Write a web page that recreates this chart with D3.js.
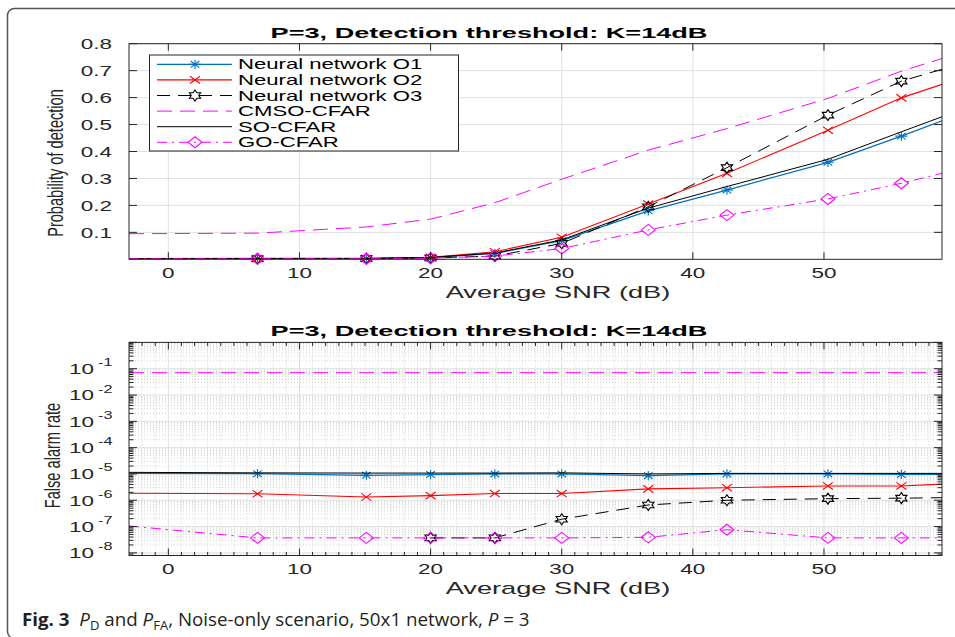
<!DOCTYPE html>
<html><head><meta charset="utf-8">
<script src="https://cdn.jsdelivr.net/npm/d3@7"></script>
<style>body{margin:0;background:#fff;} svg{display:block;}</style>
</head><body><svg id="c" width="955" height="637"></svg>
<script>
// ---------------- DATA ----------------
const snr = [-3, 6.8, 15.1, 20, 24.9, 30, 36.6, 42.6, 50.3, 55.9, 59];
const seriesNames = ['Neural network O1', 'Neural network O2', 'Neural network O3', 'CMSO-CFAR', 'SO-CFAR', 'GO-CFAR'];
// Probability of detection
const pdO1   = [0.002, 0.003, 0.003, 0.006, 0.022, 0.069, 0.180, 0.257, 0.360, 0.457, 0.514];
const pdO2   = [0.002, 0.003, 0.003, 0.007, 0.028, 0.082, 0.205, 0.319, 0.479, 0.599, 0.649];
const pdO3   = [0.002, 0.002, 0.003, 0.005, 0.012, 0.059, 0.195, 0.340, 0.535, 0.661, 0.705];
const pdCMSO = [0.095, 0.097, 0.120, 0.149, 0.210, 0.297, 0.405, 0.485, 0.597, 0.698, 0.745];
const pdSO   = [0.002, 0.003, 0.003, 0.007, 0.023, 0.072, 0.190, 0.270, 0.371, 0.473, 0.529];
const pdGO   = [0.002, 0.002, 0.002, 0.004, 0.012, 0.040, 0.109, 0.164, 0.224, 0.282, 0.319];
// False alarm rate
const faO1   = [1.05e-5, 1.02e-5, 8.9e-6, 9.5e-6, 1.0e-5, 1.0e-5, 8.6e-6, 1.0e-5, 1.0e-5, 9.6e-6, 9.6e-6];
const faO2   = [1.84e-6, 1.77e-6, 1.33e-6, 1.5e-6, 1.8e-6, 1.8e-6, 2.7e-6, 3.0e-6, 3.5e-6, 3.5e-6, 4.1e-6];
const faO3   = [null, null, null, 3.7e-8, 3.7e-8, 1.9e-7, 6.6e-7, 1.0e-6, 1.15e-6, 1.2e-6, 1.25e-6];
const faCMSO = [0.0705, 0.0705, 0.0705, 0.0705, 0.0705, 0.0705, 0.0705, 0.0705, 0.0705, 0.0705, 0.0705];
const faSO   = [1.15e-5, 1.1e-5, 1.08e-5, 1.08e-5, 1.08e-5, 1.1e-5, 1.0e-5, 1.05e-5, 1.05e-5, 1.05e-5, 1.05e-5];
const faGO   = [1.05e-7, 3.7e-8, 3.7e-8, 3.7e-8, 3.7e-8, 3.7e-8, 3.9e-8, 7.6e-8, 3.7e-8, 3.7e-8, 3.7e-8];
const xTicks = [0, 10, 20, 30, 40, 50];
const pdTicks = [0.1, 0.2, 0.3, 0.4, 0.5, 0.6, 0.7, 0.8];
const faExps = [-1, -2, -3, -4, -5, -6, -7, -8];
const titleText = 'P=3, Detection threshold: K=14dB';
const xLabel = 'Average SNR (dB)';

// ---------------- STYLE ----------------
const styles = [
  {color:'#0072bd', dash:null, marker:'asterisk', w:1.3},
  {color:'#ff0000', dash:null, marker:'x', w:1.1},
  {color:'#000000', dash:'13,8', marker:'hexagram', w:1},
  {color:'#ff00ff', dash:'15,8', marker:null, w:1},
  {color:'#000000', dash:null, marker:null, w:1},
  {color:'#ff00ff', dash:'10,5,2,5', marker:'diamond', w:1}
];
const FONT = '"Liberation Sans", Arial, Helvetica, sans-serif';
const AX = '#262626';
const svg = d3.select('#c');

// frame
svg.append('rect').attr('x',7.5).attr('y',8.5).attr('width',1100).attr('height',630)
  .attr('rx',7).attr('fill','none').attr('stroke','#555').attr('stroke-width',1.5);

const x = d3.scaleLinear().domain([-3, 59]).range([129, 942]);
const X0 = 129, X1 = 942;

function txt(g, px, py, s, o = {}) {
  return g.append('text')
    .attr('transform', `translate(${px},${py}) scale(${o.sx || 1},1)` + (o.rot ? ` rotate(${o.rot})` : ''))
    .attr('text-anchor', o.anchor || 'start')
    .attr('font-family', o.font || FONT)
    .attr('font-size', o.size || 14)
    .attr('font-weight', o.weight || 'normal')
    .attr('fill', o.fill || AX)
    .text(s);
}

function markerPath(type) {
  if (type === 'asterisk') {
    const a = 6, b = 4.6, c = 4.3, d = 3.3;
    return `M${-a},0H${a}M0,${-b}V${b}M${-c},${-d}L${c},${d}M${-c},${d}L${c},${-d}`;
  }
  if (type === 'x') return 'M-5,-3.6L5,3.6M-5,3.6L5,-3.6';
  if (type === 'diamond') return 'M0,-5.5L7,0L0,5.5L-7,0Z';
  if (type === 'hexagram') {
    const pts = [];
    for (let k = 0; k < 12; k++) {
      const ang = (-90 + 30 * k) * Math.PI / 180;
      const r = k % 2 === 0 ? 1 : 1 / Math.sqrt(3);
      pts.push([6.5 * r * Math.cos(ang), 5.5 * r * Math.sin(ang)]);
    }
    return 'M' + pts.map(p => p[0].toFixed(2) + ',' + p[1].toFixed(2)).join('L') + 'Z';
  }
  return '';
}

function drawSeries(g, y, values, st, clipId) {
  const pts = snr.map((s, i) => [s, values[i]]);
  const line = d3.line().defined(d => d[1] != null).x(d => x(d[0])).y(d => y(d[1]));
  g.append('path').attr('d', line(pts)).attr('fill', 'none')
    .attr('stroke', st.color).attr('stroke-width', st.w)
    .attr('stroke-dasharray', st.dash).attr('clip-path', `url(#${clipId})`);
  if (st.marker) {
    g.selectAll(null).data(pts.filter(d => d[1] != null && d[0] > -3 && d[0] < 59)).enter()
      .append('path').attr('d', markerPath(st.marker))
      .attr('transform', d => `translate(${x(d[0])},${y(d[1])})`)
      .attr('fill', 'none').attr('stroke', st.color).attr('stroke-width', 1.1);
  }
}

function panel(opt) {
  const g = svg.append('g');
  const y = opt.y, Y0 = opt.Y0, Y1 = opt.Y1; // Y0 top, Y1 bottom
  const clipId = opt.id + 'clip';
  svg.append('clipPath').attr('id', clipId).append('rect')
    .attr('x', X0).attr('y', Y0).attr('width', X1 - X0).attr('height', Y1 - Y0);

  // minor grid
  if (opt.log) {
    for (let v = -2; v <= 58; v++) {
      if (v % 10 === 0) continue;
      g.append('line').attr('x1', x(v)).attr('x2', x(v)).attr('y1', Y0).attr('y2', Y1)
        .attr('stroke', '#c8c8c8').attr('stroke-width', 0.8).attr('stroke-dasharray', '1,2');
    }
    for (let e = -9; e < 0; e++) for (let m = 2; m <= 9; m++) {
      const v = m * Math.pow(10, e);
      if (v < y.domain()[0] || v > y.domain()[1]) continue;
      g.append('line').attr('x1', X0).attr('x2', X1).attr('y1', y(v)).attr('y2', y(v))
        .attr('stroke', '#c8c8c8').attr('stroke-width', 0.8).attr('stroke-dasharray', '1,2');
    }
  }
  // major grid
  xTicks.forEach(t => g.append('line').attr('x1', x(t)).attr('x2', x(t)).attr('y1', Y0).attr('y2', Y1)
    .attr('stroke', '#e0e0e0').attr('stroke-width', 1));
  opt.yTickVals.forEach(t => g.append('line').attr('x1', X0).attr('x2', X1).attr('y1', y(t)).attr('y2', y(t))
    .attr('stroke', '#e0e0e0').attr('stroke-width', 1));

  // series
  opt.data.forEach((vals, i) => drawSeries(g, y, vals, styles[i], clipId));

  // ticks
  const tk = g.append('g').attr('stroke', AX).attr('stroke-width', 1);
  xTicks.forEach(t => {
    tk.append('line').attr('x1', x(t)).attr('x2', x(t)).attr('y1', Y1).attr('y2', Y1 - 7);
    tk.append('line').attr('x1', x(t)).attr('x2', x(t)).attr('y1', Y0).attr('y2', Y0 + 7);
  });
  opt.yTickVals.forEach(t => {
    tk.append('line').attr('x1', X0).attr('x2', X0 + 8).attr('y1', y(t)).attr('y2', y(t));
    tk.append('line').attr('x1', X1).attr('x2', X1 - 8).attr('y1', y(t)).attr('y2', y(t));
  });
  if (opt.log) {
    for (let v = -2; v <= 58; v++) {
      if (v % 10 === 0) continue;
      tk.append('line').attr('x1', x(v)).attr('x2', x(v)).attr('y1', Y1).attr('y2', Y1 - 3.5);
      tk.append('line').attr('x1', x(v)).attr('x2', x(v)).attr('y1', Y0).attr('y2', Y0 + 3.5);
    }
    for (let e = -9; e < 0; e++) for (let m = 2; m <= 9; m++) {
      const v = m * Math.pow(10, e);
      if (v < y.domain()[0] || v > y.domain()[1]) continue;
      tk.append('line').attr('x1', X0).attr('x2', X0 + 4.5).attr('y1', y(v)).attr('y2', y(v));
      tk.append('line').attr('x1', X1).attr('x2', X1 - 4.5).attr('y1', y(v)).attr('y2', y(v));
    }
  }
  // box
  g.append('rect').attr('x', X0).attr('y', Y0).attr('width', X1 - X0).attr('height', Y1 - Y0)
    .attr('fill', 'none').attr('stroke', AX).attr('stroke-width', 1);

  // tick labels
  xTicks.forEach(t => txt(g, x(t), opt.xTickBase, String(t), {anchor: 'middle', size: 14.5, sx: 1.55}));
  opt.yLabels(g, y);

  // title & labels
  txt(g, 489, opt.titleBase, titleText, {anchor: 'middle', size: 15.5, sx: 1.75, weight: 'bold', fill: '#000'});
  txt(g, 558, opt.xLabelBase, xLabel, {anchor: 'middle', size: 16, sx: 1.7});
  txt(g, opt.yLabX, opt.yLabY, opt.yLabel, {anchor: 'middle', size: 14.6, sx: 1.5, rot: -90});
  return {g, y};
}

// ---------- top panel ----------
const yTop = d3.scaleLinear().domain([0, 0.8]).range([259.3, 43.7]);
panel({
  id: 'pd', y: yTop, Y0: 43.7, Y1: 259.3, log: false,
  yTickVals: pdTicks,
  data: [pdO1, pdO2, pdO3, pdCMSO, pdSO, pdGO],
  xTickBase: 278.3, titleBase: 38.3, xLabelBase: 298.3,
  yLabX: 62.5, yLabY: 163, yLabel: 'Probability of detection',
  yLabels: (g, y) => pdTicks.forEach(t => txt(g, 112, y(t) + 5.3, t.toFixed(1), {anchor: 'end', size: 14.5, sx: 1.55}))
});

// ---------- bottom panel ----------
const yBot = d3.scaleLog().domain([Math.pow(10, -8.1), 1]).range([555.5, 342.4]);
panel({
  id: 'fa', y: yBot, Y0: 342.4, Y1: 555.5, log: true,
  yTickVals: [1].concat(faExps.map(e => Math.pow(10, e))),
  data: [faO1, faO2, faO3, faCMSO, faSO, faGO],
  xTickBase: 574, titleBase: 336, xLabelBase: 593.5,
  yLabX: 59.5, yLabY: 455.5, yLabel: 'False alarm rate',
  yLabels: (g, y) => faExps.forEach(e => {
    const yy = y(Math.pow(10, e));
    txt(g, 94, yy + 5.3, '10', {anchor: 'end', size: 14.5, sx: 1.55});
    txt(g, 98, yy - 2.5, '-' + Math.abs(e), {anchor: 'start', size: 10.5, sx: 1.55});
  })
});

// ---------- legend ----------
const lg = svg.append('g');
lg.append('rect').attr('x', 149.5).attr('y', 55).attr('width', 309).attr('height', 96)
  .attr('fill', '#fff').attr('stroke', AX).attr('stroke-width', 1);
seriesNames.forEach((name, i) => {
  const st = styles[i], cy = 64.3 + i * 15.6;
  lg.append('line').attr('x1', 157).attr('x2', 232).attr('y1', cy).attr('y2', cy)
    .attr('stroke', st.color).attr('stroke-width', st.w).attr('stroke-dasharray', st.dash);
  if (st.marker) lg.append('path').attr('d', markerPath(st.marker))
    .attr('transform', `translate(195,${cy})`).attr('fill', 'none')
    .attr('stroke', st.color).attr('stroke-width', 1.1);
  txt(lg, 238, cy + 5, name, {size: 14, sx: 1.58, fill: '#000'});
});

// ---------- caption ----------
const cap = svg.append('text').attr('x', 0).attr('y', 0)
  .attr('font-family', '"Open Sans", "Noto Sans", sans-serif').attr('font-size', 18)
  .attr('fill', '#231f20').style('white-space', 'pre');
cap.append('tspan').attr('font-weight', 'bold').text('Fig. 3');
cap.append('tspan').text('  ');
cap.append('tspan').attr('font-style', 'italic').text('P');
cap.append('tspan').attr('font-size', 12.5).attr('dy', 4).text('D');
cap.append('tspan').attr('dy', -4).text(' and ');
cap.append('tspan').attr('font-style', 'italic').text('P');
cap.append('tspan').attr('font-size', 12.5).attr('dy', 4).text('FA');
cap.append('tspan').attr('dy', -4).text(', Noise-only scenario, 50x1 network, ');
cap.append('tspan').attr('font-style', 'italic').text('P');
cap.append('tspan').text(' = 3');
const cw = cap.node().getBBox().width;
cap.attr('transform', `translate(22,626) scale(${508 / cw},1)`);
</script></body></html>
